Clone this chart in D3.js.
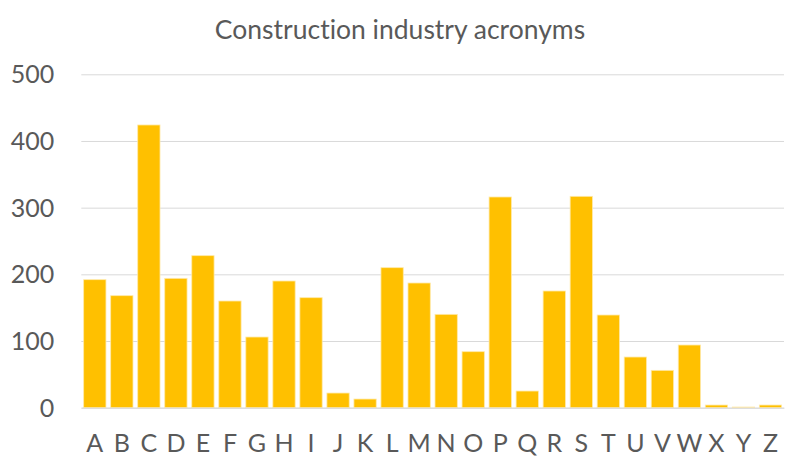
<!DOCTYPE html>
<html>
<head>
<meta charset="utf-8">
<script src="https://cdn.jsdelivr.net/npm/d3@7"></script>
<style>
  html, body { margin: 0; padding: 0; background: #ffffff; }
  svg { display: block; }
  text { font-variant-ligatures: none; font-feature-settings: "liga" 0, "clig" 0; }
</style>
</head>
<body>
<svg id="chart" width="800" height="472"></svg>
<script>
const title = "Construction industry acronyms";
const categories = ["A","B","C","D","E","F","G","H","I","J","K","L","M","N","O","P","Q","R","S","T","U","V","W","X","Y","Z"];
const counts = [192,168,424,194,228,160,106,190,165,22,13,210,187,140,84,316,25,175,317,139,76,56,94,4,1,4];
const yTicks = [0,100,200,300,400,500];

const svg = d3.select("#chart");
const margin = {left: 81.3, right: 16, top: 74.3, bottom: 64.3};
const W = 800, H = 472;
const innerW = W - margin.left - margin.right;
const innerH = H - margin.top - margin.bottom;
const font = "Lato, 'Open Sans', sans-serif";
const textColor = "#595959";

const x = d3.scaleBand().domain(categories).range([0, innerW]).paddingInner(0.175).paddingOuter(0.0875);
const y = d3.scaleLinear().domain([0, 500]).range([innerH, 0]);

const g = svg.append("g").attr("transform", `translate(${margin.left},${margin.top})`);

// gridlines
const yAxis = d3.axisLeft(y).tickValues(yTicks).tickSize(-innerW).tickPadding(27);
const ya = g.append("g").call(yAxis);
ya.select(".domain").remove();
ya.selectAll(".tick line").attr("stroke", "#d9d9d9").attr("stroke-width", 1);
ya.selectAll(".tick text").attr("fill", textColor).attr("font-family", font).attr("font-size", 25).attr("dy", "0.34em");

// bars
g.selectAll("rect.bar").data(categories).join("rect")
  .attr("class", "bar")
  .attr("x", d => x(d))
  .attr("width", x.bandwidth())
  .attr("y", (d, i) => y(counts[i]))
  .attr("height", (d, i) => y(0) - y(counts[i]))
  .attr("fill", "#FFC000")
  .attr("stroke", "#ffe9a8")
  .attr("stroke-width", 0.8);

// x axis
const xAxis = d3.axisBottom(x).tickSize(0).tickPadding(27);
const xa = g.append("g").attr("transform", `translate(0,${innerH})`).call(xAxis);
xa.select(".domain").attr("stroke", "#d9d9d9");
xa.selectAll(".tick text").attr("fill", textColor).attr("font-family", font).attr("font-size", 25);

// title
svg.append("text")
  .attr("x", 400).attr("y", 39)
  .attr("text-anchor", "middle")
  .attr("fill", textColor)
  .attr("font-family", font)
  .attr("font-size", 26.5)
  .text(title);
</script>
</body>
</html>
